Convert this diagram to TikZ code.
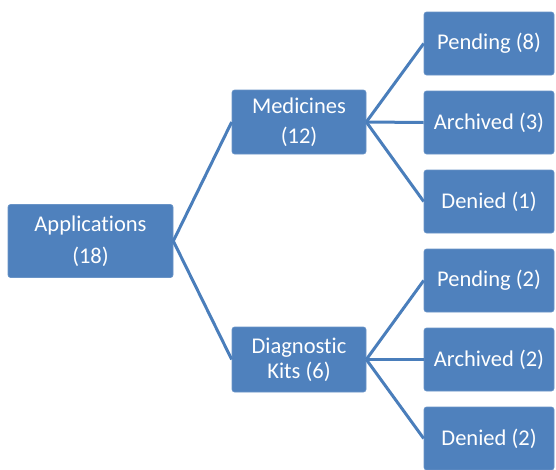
\documentclass[tikz,border=0pt]{standalone}
\usepackage{fontspec}
\setmainfont{Carlito}[Ligatures={NoCommon}]
\usetikzlibrary{positioning}
\definecolor{boxblue}{HTML}{4F81BD}
\definecolor{lineblue}{HTML}{4A7EBB}
\begin{document}
\begin{tikzpicture}[x=1pt,y=-1pt,node distance=79pt,on grid,
      every node/.style={font=\fontsize{22.5}{25}\selectfont},
      box/.style={rectangle,rounded corners=2.5pt,fill=boxblue,draw=boxblue!85!white,
        line width=0.6pt,text=white,align=center,inner sep=0pt},
      leaf/.style={box,minimum width=130pt,minimum height=63pt},
      link/.style={draw=lineblue,line width=3pt}]
      \useasboundingbox (0,0) rectangle (556,469);
      \clip (0,0) rectangle (556,469);
      \node[box,minimum width=165pt,minimum height=73pt] (app) at (90.5,241) {Applications\\[7pt](18)};
      \node[box,minimum width=134pt,minimum height=64pt] (med) at (299,122) {Medicines\\[5pt](12)};
      \node[box,minimum width=134pt,minimum height=65pt] (diag) at (299,359.5) {Diagnostic\\Kits (6)};
      \node[leaf] (p8) at (489,43.5) {Pending (8)};
      \node[leaf] (a3) [below=of p8] {Archived (3)};
      \node[leaf] (d1) [below=of a3] {Denied (1)};
      \node[leaf] (p2) [below=of d1] {Pending (2)};
      \node[leaf] (a2) [below=of p2] {Archived (2)};
      \node[leaf] (d2) [below=of a2] {Denied (2)};
      \path[link]
      (app.east) edge (med.west)
      (app.east) edge (diag.west)
      (med.east) edge (p8.west)
      (med.east) edge (a3.west)
      (med.east) edge (d1.west)
      (diag.east) edge (p2.west)
      (diag.east) edge (a2.west)
      (diag.east) edge (d2.west);
    \end{tikzpicture}
\end{document}
